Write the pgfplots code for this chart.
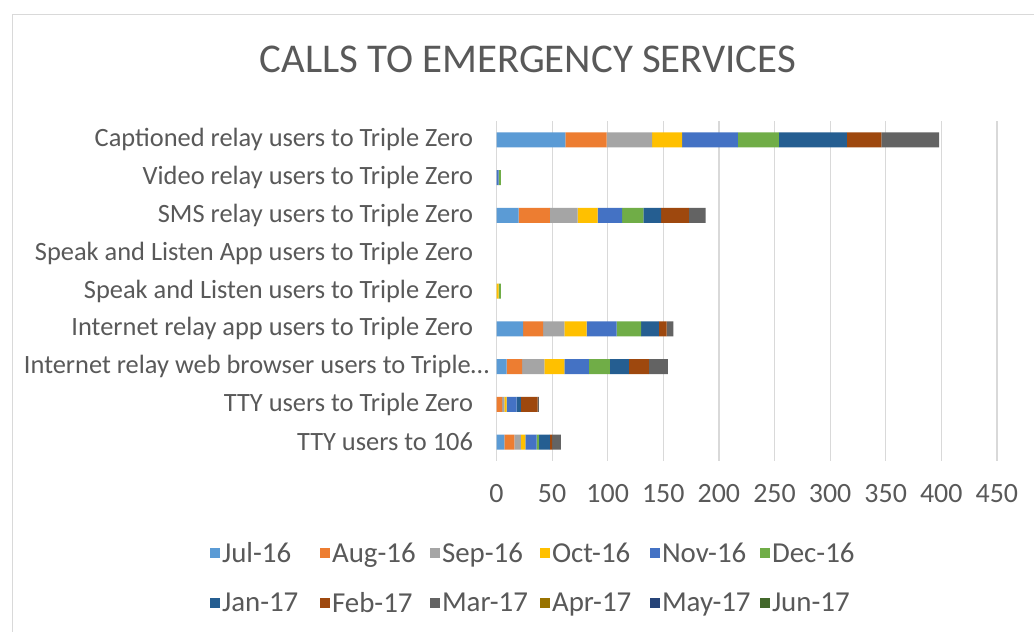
\documentclass[border=0pt]{standalone}
\usepackage{fontspec}
\setmainfont{Carlito}
\usepackage{pgfplots}
\usepackage{pgfplotstable}
\pgfplotsset{compat=1.18}
\definecolor{cJul}{HTML}{5B9BD5}
\definecolor{cAug}{HTML}{ED7D31}
\definecolor{cSep}{HTML}{A5A5A5}
\definecolor{cOct}{HTML}{FFC000}
\definecolor{cNov}{HTML}{4472C4}
\definecolor{cDec}{HTML}{70AD47}
\definecolor{cJan}{HTML}{255E91}
\definecolor{cFeb}{HTML}{9E480E}
\definecolor{cMar}{HTML}{636363}
\definecolor{cApr}{HTML}{997300}
\definecolor{cMay}{HTML}{264478}
\definecolor{cJun}{HTML}{43682B}
\definecolor{txt}{HTML}{595959}
\pgfplotstableread{
y Jul Aug Sep Oct Nov Dec Jan Feb Mar Apr May Jun
0 7 9 6 4 10 2 10 2 8 0 0 0
1 0 5 2 2 9 0 4 15 1 0 0 0
2 9 14 20 18 22 19 17 18 17 0 0 0
3 24 18 19 20 27 22 16 7 6 0 0 0
4 0 0 0 2 0 2 0 0 0 0 0 0
5 0 0 0 0 0 0 0 0 0 0 0 0
6 20 28 25 18 22 19 16 25 15 0 0 0
7 0 0 0 0 2 2 0 0 0 0 0 0
8 62 37 41 27 50 37 61 31 52 0 0 0
}\calls
\begin{document}
\begin{tikzpicture}
\useasboundingbox (0,0) rectangle (1034bp,632bp);
\fill[white] (0,0) rectangle (1034bp,632bp);
\draw[black!15] (12bp,-10bp) rectangle (1040bp,618bp);
\begin{axis}[
  at={(496.5bp,171bp)}, anchor=south west,
  scale only axis, width=500.4bp, height=340bp,
  xbar stacked, bar width=15bp,
  xmin=0, xmax=450, ymin=-0.5, ymax=8.5,
  axis line style={draw=none},
  xmajorgrids, grid style={draw=black!15, line width=1.2pt},
  xtick={0,50,...,450},
  ytick={0,1,2,3,4,5,6,7,8},
  yticklabels={{TTY users to 106}, {TTY users to Triple Zero}, {Internet relay web browser users to Triple\char"2026\hspace*{-16bp}}, {Internet relay app users to Triple Zero}, {Speak and Listen users to Triple Zero}, {Speak and Listen App users to Triple Zero}, {SMS relay users to Triple Zero}, {Video relay users to Triple Zero}, {Captioned relay users to Triple Zero}},
  major tick length=0pt,
  tick label style={text=txt},
  yticklabel style={font=\fontsize{26.5}{30}\selectfont, anchor=east, xshift=-20bp},
  xticklabel style={font=\fontsize{28}{32}\selectfont, yshift=-20bp},
  /pgf/number format/assume math mode=true,
  title={CALLS TO EMERGENCY SERVICES},
  title style={at={(0.063,1.165)}, anchor=center, font=\fontsize{41}{48}\selectfont, text=txt},
  legend columns=6,
  legend style={at={(0.087,-0.344)}, anchor=center, draw=none, fill=none,
    font=\fontsize{29}{33}\selectfont, text=txt,
    nodes={text width=96bp, align=left, inner sep=2bp},
    column sep=0bp, row sep=24bp},
  legend image code/.code={\fill[#1,draw=none] (0bp,-5bp) rectangle (10bp,5bp);},
]
\addplot[fill=cJul, draw=none] table[x=Jul, y=y]{\calls};
\addplot[fill=cAug, draw=none] table[x=Aug, y=y]{\calls};
\addplot[fill=cSep, draw=none] table[x=Sep, y=y]{\calls};
\addplot[fill=cOct, draw=none] table[x=Oct, y=y]{\calls};
\addplot[fill=cNov, draw=none] table[x=Nov, y=y]{\calls};
\addplot[fill=cDec, draw=none] table[x=Dec, y=y]{\calls};
\addplot[fill=cJan, draw=none] table[x=Jan, y=y]{\calls};
\addplot[fill=cFeb, draw=none] table[x=Feb, y=y]{\calls};
\addplot[fill=cMar, draw=none] table[x=Mar, y=y]{\calls};
\addplot[fill=cApr, draw=none] table[x=Apr, y=y]{\calls};
\addplot[fill=cMay, draw=none] table[x=May, y=y]{\calls};
\addplot[fill=cJun, draw=none] table[x=Jun, y=y]{\calls};
\legend{Jul-16,Aug-16,Sep-16,Oct-16,Nov-16,Dec-16,Jan-17,Feb-17,Mar-17,Apr-17,May-17,Jun-17}
\end{axis}
\end{tikzpicture}
\end{document}
